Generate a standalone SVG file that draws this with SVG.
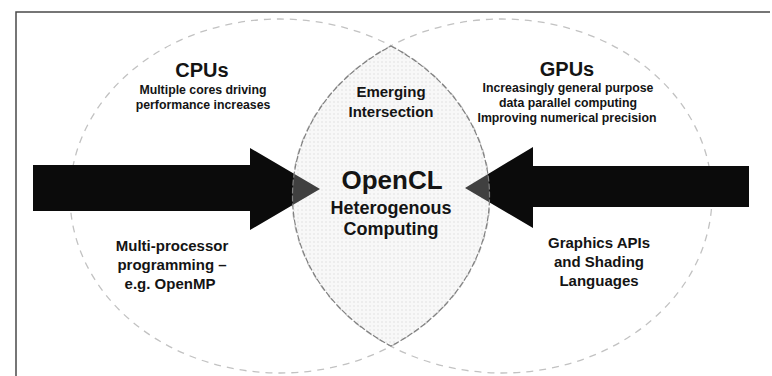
<svg xmlns="http://www.w3.org/2000/svg" width="772" height="376" viewBox="0 0 772 376">
  <defs>
    <style>
      text { font-family: "Liberation Sans", Arial, sans-serif; font-weight: bold; fill: #141414; text-anchor: middle; }
      .title { font-size: 20px; }
      .small { font-size: 12.3px; }
      .mid { font-size: 15px; }
      .big { font-size: 26px; }
      .sub { font-size: 18px; }
      .outer { fill: none; stroke: #c2c2c2; stroke-width: 1.3; stroke-dasharray: 7 6; }
      .lensline { fill: none; stroke: #808080; stroke-width: 1.2; stroke-dasharray: 6 2; }
      .arrow { fill: #0b0b0b; }
    </style>
    <pattern id="dots" width="4" height="4" patternUnits="userSpaceOnUse">
      <rect width="4" height="4" fill="#f6f6f6"/>
      <circle cx="2" cy="2" r="0.8" fill="#d6d6d6"/>
    </pattern>
  </defs>
  <rect width="772" height="376" fill="#ffffff"/>
  <path d="M770,12 H16 V376" fill="none" stroke="#4a4a4a" stroke-width="1.5"/>

  <g id="lens-bg">
    <path d="M391,46 A210,177 0 0,1 391,346 A210,177 0 0,1 391,46 Z" fill="url(#dots)"/>
  </g>

  <g id="cpu">
    <ellipse class="outer" cx="280" cy="196" rx="210" ry="177"/>
    <text class="title" x="202" y="77">CPUs</text>
    <text class="small" x="203" y="94">Multiple cores driving</text>
    <text class="small" x="203" y="109">performance increases</text>
    <text class="mid" x="172" y="251">Multi-processor</text>
    <text class="mid" x="172" y="270">programming –</text>
    <text class="mid" x="170" y="289">e.g. OpenMP</text>
  </g>

  <g id="gpu">
    <ellipse class="outer" cx="502" cy="196" rx="210" ry="177"/>
    <text class="title" x="567" y="76">GPUs</text>
    <text class="small" x="568" y="92">Increasingly general purpose</text>
    <text class="small" x="568" y="107">data parallel computing</text>
    <text class="small" x="567" y="122">Improving numerical precision</text>
    <text class="mid" x="599" y="248">Graphics APIs</text>
    <text class="mid" x="599" y="267">and Shading</text>
    <text class="mid" x="599" y="286">Languages</text>
  </g>

  <g id="connectors">
    <path class="arrow" d="M33,165 H250 V148 L320,189 L250,230 V211 H33 Z"/>
    <path class="arrow" d="M749,166 H533 V147 L465,188 L533,228 V207 H749 Z"/>
  </g>

  <g id="opencl">
    <path d="M391,46 A210,177 0 0,1 391,346 A210,177 0 0,1 391,46 Z" fill="#ffffff" fill-opacity="0.22"/>
    <path class="lensline" d="M391,46 A210,177 0 0,1 391,346 A210,177 0 0,1 391,46 Z"/>
    <text class="mid" x="391" y="97">Emerging</text>
    <text class="mid" x="391" y="117">Intersection</text>
    <text class="big" x="392" y="189">OpenCL</text>
    <text class="sub" x="391" y="214">Heterogenous</text>
    <text class="sub" x="391" y="235">Computing</text>
  </g>
</svg>
